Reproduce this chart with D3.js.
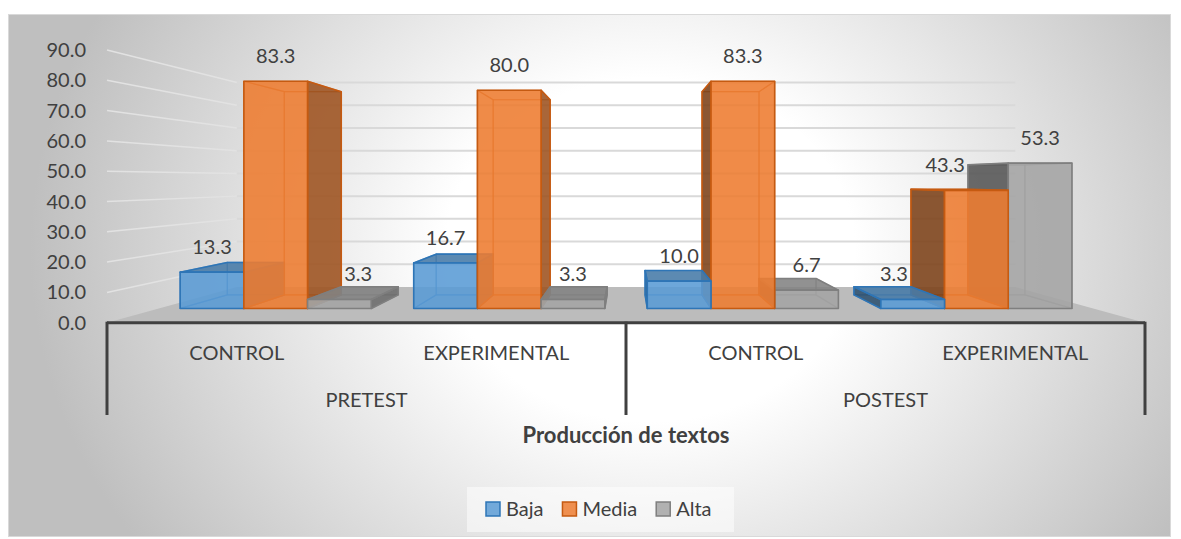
<!DOCTYPE html>
<html>
<head>
<meta charset="utf-8">
<script src="https://cdn.jsdelivr.net/npm/d3@7"></script>
<style>
  body { margin: 0; background: #fff; }
  text { font-family: Lato, sans-serif; fill: #404040; }
</style>
</head>
<body>
<div id="chart"></div>
<script>
const stages = ['PRETEST', 'POSTEST'];
const groups = ['CONTROL', 'EXPERIMENTAL'];
const seriesNames = ['Baja', 'Media', 'Alta'];
const baja = [13.3, 16.7, 10.0, 3.3];
const media = [83.3, 80.0, 83.3, 43.3];
const alta = [3.3, 3.3, 6.7, 53.3];
const yTicks = [0, 10, 20, 30, 40, 50, 60, 70, 80, 90];
const axisTitle = 'Producción de textos';

const seriesColors = ['#5B9BD5', '#ED7D31', '#A5A5A5'];
const seriesStrokes = ['#2E75B6', '#C55A11', '#7F7F7F'];

function createChart() {
    const width = 1181;
    const height = 539;

    // perspective: vanishing point and depth scales (1 = front of floor)
    const vx = 626.5, vy = 180;
    const sFront = 0.9, sBack = 0.805, sWall = 0.75;

    const left = 107, right = 1145;

    const cats = d3.cross(stages, groups).map((d, i) => ({
        stage: d[0],
        group: d[1],
        values: [baja[i], media[i], alta[i]]
    }));

    // attach first so text can be measured
    const svg = d3.select('#chart').append('svg')
        .attr('width', width)
        .attr('height', height);

    const defs = svg.append('defs');
    const grad = defs.append('radialGradient')
        .attr('id', 'bg')
        .attr('gradientUnits', 'userSpaceOnUse')
        .attr('cx', 0).attr('cy', 0).attr('r', 1)
        .attr('gradientTransform', 'translate(650,250) scale(620,520)');
    grad.append('stop').attr('offset', 0).attr('stop-color', '#ffffff');
    grad.append('stop').attr('offset', 0.33).attr('stop-color', '#ffffff');
    grad.append('stop').attr('offset', 1).attr('stop-color', '#bfbfbf');

    svg.append('rect')
        .attr('x', 8.5).attr('y', 14.5)
        .attr('width', 1162).attr('height', 522)
        .attr('fill', 'url(#bg)')
        .attr('stroke', '#d9d9d9');

    const x = d3.scaleBand()
        .domain(d3.range(cats.length))
        .range([left, right]);

    const xs = d3.scaleBand()
        .domain(seriesNames)
        .range([0, x.bandwidth()])
        .paddingOuter(0.333)
        .paddingInner(0);

    const y = d3.scaleLinear()
        .domain([0, 90])
        .range([322.7, 50]);

    const proj = (px, py, s) => [vx + (px - vx) * s, vy + (py - vy) * s];
    const poly = d3.line();

    // floor
    const y0 = y(0);
    svg.append('path')
        .attr('d', poly([proj(left, y0, 1), proj(right, y0, 1), proj(right, y0, sWall), proj(left, y0, sWall)]) + 'Z')
        .attr('fill', '#bcbcbc');

    // gridlines on side wall and back wall
    const grid = svg.append('g');
    yTicks.filter(t => t > 0).forEach(t => {
        const a = proj(left, y(t), 1), b = proj(left, y(t), sWall), c = proj(right, y(t), sWall);
        grid.append('line')
            .attr('x1', a[0]).attr('y1', a[1]).attr('x2', b[0]).attr('y2', b[1])
            .attr('stroke', '#e2e2e2').attr('stroke-width', 1.5);
        grid.append('line')
            .attr('x1', b[0]).attr('y1', b[1]).attr('x2', c[0]).attr('y2', c[1])
            .attr('stroke', '#d9d9d9').attr('stroke-width', 2);
    });

    // y tick labels
    svg.append('g').selectAll('text')
        .data(yTicks)
        .enter().append('text')
        .attr('x', 86)
        .attr('y', d => y(d) + 7)
        .attr('text-anchor', 'end')
        .style('font-size', '20px')
        .text(d => d3.format('.1f')(d));

    // bars
    const bars = [];
    cats.forEach((c, i) => {
        c.values.forEach((v, j) => {
            const x0 = x(i) + xs(seriesNames[j]);
            const x1 = x0 + xs.bandwidth();
            bars.push({ i, j, v, x0, x1, yTop: y(v), yBot: y0 });
        });
    });
    bars.forEach(b => {
        const F = (px, py) => proj(px, py, sFront);
        const B = (px, py) => proj(px, py, sBack);
        b.faces = {
            front: [F(b.x0, b.yTop), F(b.x1, b.yTop), F(b.x1, b.yBot), F(b.x0, b.yBot)],
            back: [B(b.x0, b.yTop), B(b.x1, b.yTop), B(b.x1, b.yBot), B(b.x0, b.yBot)],
            left: [F(b.x0, b.yTop), B(b.x0, b.yTop), B(b.x0, b.yBot), F(b.x0, b.yBot)],
            right: [F(b.x1, b.yTop), B(b.x1, b.yTop), B(b.x1, b.yBot), F(b.x1, b.yBot)],
            top: [F(b.x0, b.yTop), F(b.x1, b.yTop), B(b.x1, b.yTop), B(b.x0, b.yTop)],
            bottom: [F(b.x0, b.yBot), F(b.x1, b.yBot), B(b.x1, b.yBot), B(b.x0, b.yBot)]
        };
        const pts = b.faces.front.concat(b.faces.back);
        b.minX = d3.min(pts, p => p[0]);
        b.maxX = d3.max(pts, p => p[0]);
        b.minY = d3.min(pts, p => p[1]);
        b.frontTop = b.faces.front[0][1];
        b.frontMid = (b.faces.front[0][0] + b.faces.front[1][0]) / 2;
    });

    const barLayer = svg.append('g');
    const sorted = bars.slice().sort((a, b) =>
        Math.abs((b.x0 + b.x1) / 2 - vx) - Math.abs((a.x0 + a.x1) / 2 - vx));

    // side faces shaded: light falls from the right
    const shade = { left: 1.9, right: 1.2, top: 0.7 };

    sorted.forEach(b => {
        const col = seriesColors[b.j];
        const stroke = seriesStrokes[b.j];
        const leftVis = b.x0 > vx;
        const rightVis = b.x1 < vx;
        const topVis = b.yTop > vy;
        const hidden = ['back', 'bottom'];
        const shown = [];
        (leftVis ? shown : hidden).push('left');
        (rightVis ? shown : hidden).push('right');
        (topVis ? shown : hidden).push('top');
        shown.push('front');

        const g = barLayer.append('g');
        hidden.forEach(f => {
            g.append('path')
                .attr('d', poly(b.faces[f]) + 'Z')
                .attr('fill', col).attr('fill-opacity', 0.25)
                .attr('stroke', stroke).attr('stroke-opacity', 0.6)
                .attr('stroke-width', 1.2).attr('stroke-linejoin', 'round');
        });
        shown.forEach(f => {
            const fill = f === 'front' ? col : d3.color(col).darker(shade[f]);
            g.append('path')
                .attr('d', poly(b.faces[f]) + 'Z')
                .attr('fill', fill).attr('fill-opacity', 0.85)
                .attr('stroke', stroke)
                .attr('stroke-width', 1.6).attr('stroke-linejoin', 'round');
        });
    });

    // data labels, nudged off taller neighbours
    const labelLayer = svg.append('g');
    bars.forEach(b => {
        const t = labelLayer.append('text')
            .attr('text-anchor', 'middle')
            .style('font-size', '20px')
            .text(d3.format('.1f')(b.v));
        const w = t.node().getComputedTextLength();
        const cy = b.frontTop - 25;
        let cx = b.frontMid;
        bars.filter(n => n.i === b.i && Math.abs(n.j - b.j) === 1).forEach(n => {
            if (n.minY > cy + 10) return;
            if (n.j > b.j && cx + w / 2 > n.minX) cx = n.minX - w / 2 - 3;
            if (n.j < b.j && cx - w / 2 < n.maxX) cx = n.maxX + w / 2 + 3;
        });
        t.attr('x', cx).attr('y', cy + 7);
    });

    // category axis
    const axis = svg.append('g').attr('stroke', '#404040').attr('stroke-width', 3);
    axis.append('line')
        .attr('x1', left).attr('x2', right)
        .attr('y1', y0).attr('y2', y0);
    [left, x(2), right].forEach(px => {
        axis.append('line')
            .attr('x1', px).attr('x2', px)
            .attr('y1', y0 - 1).attr('y2', 415);
    });

    svg.append('g').selectAll('text')
        .data(cats)
        .enter().append('text')
        .attr('x', (d, i) => x(i) + x.bandwidth() / 2)
        .attr('y', 360)
        .attr('text-anchor', 'middle')
        .style('font-size', '20px')
        .text(d => d.group);

    svg.append('g').selectAll('text')
        .data(stages)
        .enter().append('text')
        .attr('x', (d, k) => x(k * 2) + x.bandwidth())
        .attr('y', 407)
        .attr('text-anchor', 'middle')
        .style('font-size', '20px')
        .text(d => d);

    svg.append('text')
        .attr('x', x(2))
        .attr('y', 443)
        .attr('text-anchor', 'middle')
        .style('font-size', '22px')
        .style('font-weight', 'bold')
        .text(axisTitle);

    // legend
    svg.append('rect')
        .attr('x', 467).attr('y', 487)
        .attr('width', 267).attr('height', 45)
        .attr('fill', '#ffffff').attr('fill-opacity', 0.5);

    const legend = svg.append('g');
    let lx = 486;
    seriesNames.forEach((name, j) => {
        legend.append('rect')
            .attr('x', lx).attr('y', 502)
            .attr('width', 14).attr('height', 14)
            .attr('fill', seriesColors[j]).attr('fill-opacity', 0.85)
            .attr('stroke', seriesStrokes[j]).attr('stroke-width', 1.5);
        const t = legend.append('text')
            .attr('x', lx + 20).attr('y', 516)
            .style('font-size', '20px')
            .text(name);
        lx += 20 + t.node().getComputedTextLength() + 19;
    });
}

createChart();
</script>
</body>
</html>
